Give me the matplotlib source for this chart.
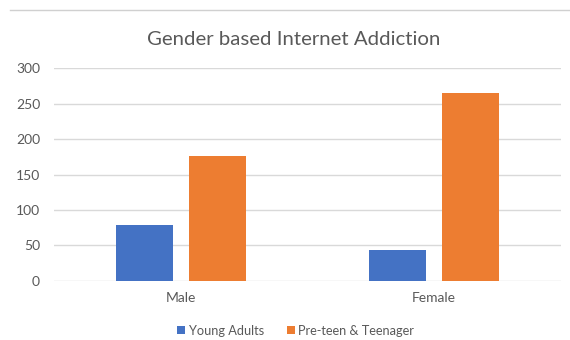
import numpy as np
import matplotlib.pyplot as plt
from matplotlib.lines import Line2D

plt.rcParams['font.family'] = ['Lato', 'DejaVu Sans']

genders = ['Male', 'Female']
young_adults = [78, 44]
preteen_teen = [176, 265]
series_names = ['Young Adults', 'Pre-teen & Teenager']

txt = '#595959'
grid = '#d9d9d9'

fig = plt.figure(figsize=(5.7, 3.4), dpi=100)
ax = fig.add_axes([0.0947, 0.1744, 0.8893, 0.6246])

x = np.arange(len(genders))
w = 0.225
ax.bar(x - 0.1436, young_adults, w, color='#4472c4', label=series_names[0], zorder=3)
ax.bar(x + 0.1436, preteen_teen, w, color='#ed7d31', label=series_names[1], zorder=3)

ax.set_xlim(-0.5, 1.5)
ax.set_ylim(0, 300)
ax.set_yticks(range(0, 301, 50))
ax.set_xticks(x)
ax.set_xticklabels(genders)
ax.yaxis.grid(True, color=grid, linewidth=1, zorder=0)
for s in ax.spines.values():
    s.set_visible(False)
ax.tick_params(length=0, colors=txt, labelsize=10)
ax.tick_params(axis='y', pad=10)
ax.tick_params(axis='x', pad=8)

fig.text(0.515, 0.885, 'Gender based Internet Addiction', ha='center', va='center',
         fontsize=14.7, color=txt)

fig.legend(loc='center', bbox_to_anchor=(0.519, 0.027), ncol=2, frameon=False,
           fontsize=9.2, labelcolor=txt, handlelength=0.6, handleheight=0.6,
           handletextpad=0.3, columnspacing=1.8)

# faint sheet border along the top
fig.add_artist(Line2D([0.018, 1.0], [0.972, 0.972], color='#d0d0d0', linewidth=1))

fig.savefig('out.png', dpi=100)
